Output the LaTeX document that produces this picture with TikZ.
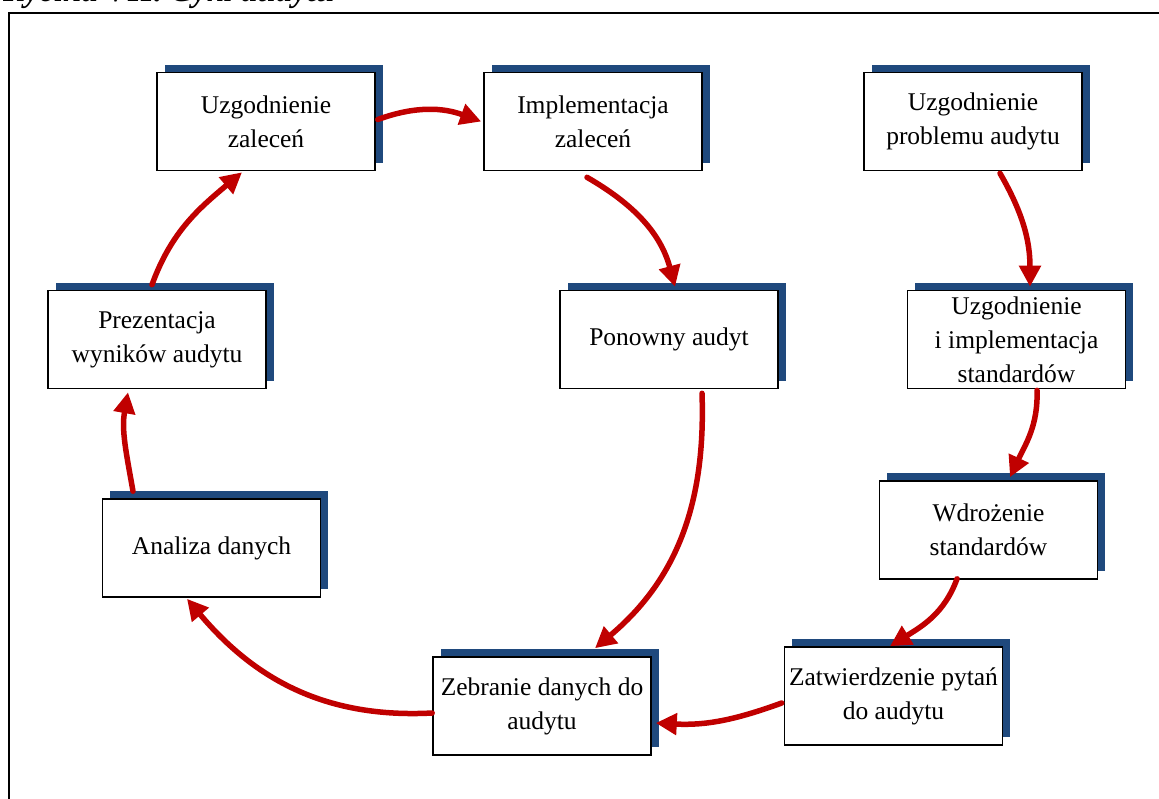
\documentclass[tikz,border=0pt]{standalone}
\usepackage{fontspec}
\setmainfont{Liberation Serif}
\usetikzlibrary{arrows.meta,shadows,calc}
\definecolor{shadowblue}{RGB}{31,73,125}
\definecolor{arrred}{RGB}{192,0,0}
\tikzset{
  stepbox/.style={draw=black, line width=1.6pt, fill=white, rectangle,
    minimum width=218pt, minimum height=98pt, inner sep=0pt, align=center,
    font=\fontsize{25.5}{34}\selectfont,
    drop shadow={fill=shadowblue, opacity=1, shadow xshift=7.5pt, shadow yshift=8pt}},
  flow/.style={draw=arrred, line width=5.5pt, line cap=round,
    -{Triangle[length=21pt,width=21pt]}}
}
\begin{document}
\begin{tikzpicture}[x=1pt,y=1pt]
\useasboundingbox (0,0) rectangle (1159,-798);
\clip (0,0) rectangle (1159,-798);
% title (cut off at top, as in the reference)
\node[anchor=base west, inner sep=0pt, font=\fontsize{33}{33}\selectfont] (title) at (3,-1) {\textbf{\textit{Rycina VII. Cykl audytu}}};
% frame
\draw[line width=2.4pt] (9,-13) rectangle (1180,-820);
% boxes
\node[stepbox] (UZ) at (266,-121.5) {Uzgodnienie\\zaleceń};
\node[stepbox] (IZ) at (593,-121.5) {Implementacja\\zaleceń};
\node[stepbox] (UP) at (973,-121.5) {Uzgodnienie\\problemu audytu};
\node[stepbox] (PW) at (157,-339.5) {Prezentacja\\wyników audytu};
\node[stepbox] (PA) at (669,-339.5) {Ponowny audyt};
\node[stepbox] (UI) at (1016.5,-339.5) {Uzgodnienie\\i implementacja\\standardów};
\node[stepbox] (AD) at (211.5,-548) {Analiza danych};
\node[stepbox] (WS) at (988.5,-530) {Wdrożenie\\standardów};
\node[stepbox] (ZD) at (542,-706) {Zebranie danych do\\audytu};
\node[stepbox] (ZP) at (893.5,-696) {Zatwierdzenie pytań\\do audytu};
% arrows
\draw[flow] ([xshift=2pt,yshift=2pt]UZ.east) to[out=20,in=160] ([xshift=-2pt]IZ.west);
\draw[flow] ([xshift=-6pt,yshift=-6pt]IZ.south) to[out=-30,in=105] ([xshift=6pt,yshift=3pt]PA.north);
\draw[flow] ([xshift=33pt,yshift=-4pt]PA.south) to[out=-88,in=40] ([xshift=53pt,yshift=8pt]ZD.north);
\draw[flow] ([yshift=-7pt]ZD.west) to[out=183,in=-50] ([xshift=-24.5pt,yshift=-1pt]AD.south);
\draw[flow] ([xshift=-78.5pt,yshift=7pt]AD.north) to[out=100,in=-100] ([xshift=-29pt,yshift=-3pt]PW.south);
\draw[flow] ([xshift=-5pt,yshift=5pt]PW.north) to[out=70,in=-140] ([xshift=-24pt,yshift=-1pt]UZ.south);
\draw[flow] ([xshift=27pt,yshift=-2pt]UP.south) to[out=-60,in=90] ([xshift=13.5pt,yshift=3pt]UI.north);
\draw[flow] ([xshift=20.5pt,yshift=-1pt]UI.south) to[out=-88,in=65] ([xshift=21.5pt,yshift=3pt]WS.north);
\draw[flow] ([xshift=-31.5pt,yshift=1pt]WS.south) to[out=-110,in=32] ([xshift=-3.5pt]ZP.north);
\draw[flow] ([xshift=-2pt,yshift=-7pt]ZP.west) to[out=200,in=-3] ([xshift=4pt,yshift=-17pt]ZD.east);
\end{tikzpicture}
\end{document}
